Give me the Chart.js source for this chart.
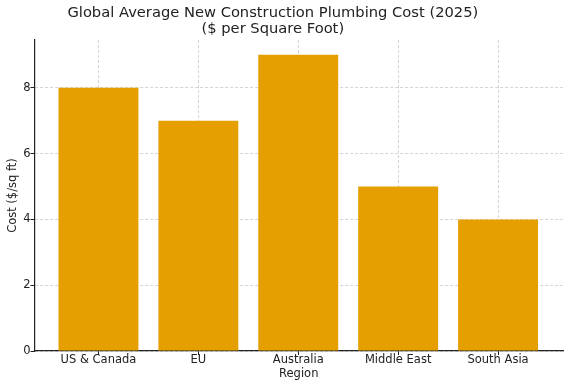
<!DOCTYPE html>
<html>
<head>
<meta charset="utf-8">
<script src="https://cdn.jsdelivr.net/npm/chart.js@4/dist/chart.umd.min.js"></script>
<style>
  html, body { margin: 0; padding: 0; background: #fff; }
  #wrap { width: 570px; height: 386px; }
</style>
</head>
<body>
<div id="wrap"><canvas id="plumbChart" width="570" height="386"></canvas></div>
<script>
const regions = ['US & Canada', 'EU', 'Australia', 'Middle East', 'South Asia'];
const costPerSqFt = [8, 7, 9, 5, 4];
const yTicks = [0, 2, 4, 6, 8];
const titleLines = ['Global Average New Construction Plumbing Cost (2025)', '($ per Square Foot)'];

const barColor = '#E69F00';
const gridColor = 'rgba(176,176,176,0.55)';
const axisColor = '#222';

// the reference title sits a little left of the canvas centre; trailing spaces nudge it over
const titlePad = '     ';

const ctx = document.getElementById('plumbChart').getContext('2d');

new Chart(ctx, {
  type: 'bar',
  data: {
    datasets: [{
      label: 'Cost',
      data: regions.map((r, i) => ({ x: i, y: costPerSqFt[i] })),
      backgroundColor: barColor,
      borderWidth: 0,
      barPercentage: 1.0,
      categoryPercentage: 0.8
    }]
  },
  options: {
    responsive: false,
    animation: false,
    layout: { padding: { left: 6, right: 7, top: 0, bottom: 0 } },
    scales: {
      x: {
        type: 'linear',
        min: -0.64,
        max: 4.65,
        offset: false,
        z: 1,
        afterBuildTicks: (scale) => {
          scale.ticks = regions.map((r, i) => ({ value: i }));
        },
        afterFit: (scale) => { scale.height = 35; },
        ticks: {
          color: axisColor,
          font: { family: 'DejaVu Sans', size: 11.5, lineHeight: 1.0 },
          padding: -1,
          maxRotation: 0,
          autoSkip: false,
          callback: (v) => regions[v]
        },
        grid: {
          offset: false,
          color: gridColor,
          tickColor: axisColor,
          tickLength: 4,
          tickBorderDash: []
        },
        border: { display: true, color: axisColor, width: 1.2, dash: [3, 2] },
        title: {
          display: true,
          text: 'Region',
          color: axisColor,
          font: { family: 'DejaVu Sans', size: 11.5 },
          padding: { top: 0, bottom: 5 }
        }
      },
      y: {
        min: 0,
        max: 9.45,
        afterBuildTicks: (scale) => {
          scale.ticks = yTicks.map(v => ({ value: v }));
        },
        afterFit: (scale) => { scale.width = 28.5; },
        ticks: {
          color: axisColor,
          font: { family: 'DejaVu Sans', size: 11.5 },
          padding: 0
        },
        grid: {
          color: gridColor,
          tickColor: axisColor,
          tickLength: 4,
          tickBorderDash: []
        },
        border: { display: true, color: axisColor, width: 1.2, dash: [3, 2] },
        title: {
          display: true,
          text: 'Cost ($/sq ft)',
          color: axisColor,
          font: { family: 'DejaVu Sans', size: 11.5 },
          padding: { top: 0, bottom: 2 }
        }
      }
    },
    plugins: {
      legend: { display: false },
      tooltip: { enabled: false },
      title: {
        display: true,
        text: titleLines.map(t => t + titlePad),
        color: axisColor,
        font: { family: 'DejaVu Sans', size: 14.7, weight: 'normal', lineHeight: 1.09 },
        padding: { top: 5, bottom: 3 }
      }
    }
  }
});
</script>
</body>
</html>
